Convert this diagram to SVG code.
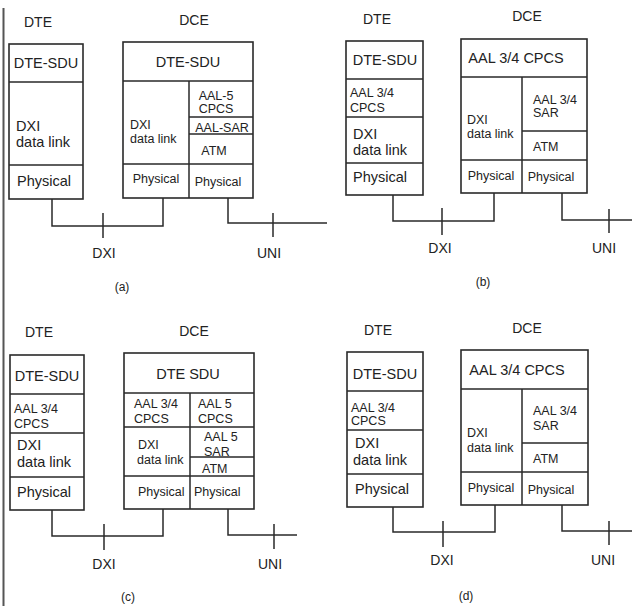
<svg xmlns="http://www.w3.org/2000/svg" width="632" height="606" viewBox="0 0 632 606">
<style>
text{font-family:"Liberation Sans",Arial,sans-serif;fill:#222}
.h{font-size:14px;text-anchor:middle}
.b{font-size:14.5px}
.s{font-size:12.5px}
.c{text-anchor:middle}
.lab{font-size:12px;text-anchor:middle}
.box{fill:none;stroke:#2a2a2a;stroke-width:1.6}
.ln{fill:none;stroke:#2a2a2a;stroke-width:1.5}
</style>
<rect width="632" height="606" fill="#fff"/>
<line x1="3.5" y1="8" x2="3.5" y2="606" stroke="#555" stroke-width="2"/>

<!-- Panel (a) -->
<g id="a-dte">
<text class="h" x="38" y="27">DTE</text>
<rect class="box" x="9" y="44" width="74" height="155"/>
<path class="ln" d="M9 82H83M9 165H83"/>
<text class="b c" x="46" y="68">DTE-SDU</text>
<text class="b" x="16" y="131">DXI</text>
<text class="b" x="16" y="147">data link</text>
<text class="b" x="17" y="186">Physical</text>
</g>
<g id="a-dce">
<text class="h" x="194" y="25">DCE</text>
<rect class="box" x="123" y="42" width="130" height="156"/>
<path class="ln" d="M123 81H253M189 81V198M189 117H253M189 134H253M123 164H253"/>
<text class="b c" x="188" y="67">DTE-SDU</text>
<text class="s" x="130" y="129">DXI</text>
<text class="s" x="130" y="143">data link</text>
<text class="s c" x="216" y="100">AAL-5</text>
<text class="s c" x="216" y="113">CPCS</text>
<text class="s c" x="222" y="132">AAL-SAR</text>
<text class="s c" x="214" y="155">ATM</text>
<text class="s c" x="156" y="183">Physical</text>
<text class="s c" x="218" y="186">Physical</text>
</g>
<text class="lab" x="122" y="291">(a)</text>

<!-- Panel (b) -->
<g id="b-dte">
<text class="h" x="377" y="24">DTE</text>
<rect class="box" x="346" y="41" width="77" height="154"/>
<path class="ln" d="M346 79H423M346 117H423M346 163H423"/>
<text class="b c" x="385" y="65">DTE-SDU</text>
<text class="s" x="350" y="97">AAL 3/4</text>
<text class="s" x="350" y="112">CPCS</text>
<text class="b" x="353" y="139">DXI</text>
<text class="b" x="353" y="155">data link</text>
<text class="b" x="353" y="182">Physical</text>
</g>
<g id="b-dce">
<text class="h" x="527" y="21">DCE</text>
<rect class="box" x="461" y="39" width="126" height="154"/>
<path class="ln" d="M461 77H587M522 77V193M522 131H587M461 160H587"/>
<text class="b c" x="516" y="63">AAL 3/4 CPCS</text>
<text class="s" x="467" y="124">DXI</text>
<text class="s" x="467" y="138">data link</text>
<text class="s" x="533" y="104">AAL 3/4</text>
<text class="s" x="533" y="117">SAR</text>
<text class="s" x="533" y="151">ATM</text>
<text class="s c" x="491" y="180">Physical</text>
<text class="s c" x="551" y="181">Physical</text>
</g>
<text class="lab" x="483" y="286">(b)</text>

<!-- Panel (c) -->
<g id="c-dte">
<text class="h" x="39" y="337">DTE</text>
<rect class="box" x="10" y="355" width="74" height="155"/>
<path class="ln" d="M10 394H84M10 433H84M10 477H84"/>
<text class="b c" x="47" y="381">DTE-SDU</text>
<text class="s" x="14" y="413">AAL 3/4</text>
<text class="s" x="14" y="428">CPCS</text>
<text class="b" x="17" y="450">DXI</text>
<text class="b" x="17" y="467">data link</text>
<text class="b" x="17" y="497">Physical</text>
</g>
<g id="c-dce">
<text class="h" x="194" y="336">DCE</text>
<rect class="box" x="124" y="353" width="130" height="156"/>
<path class="ln" d="M124 393H254M190 393V509M124 427H254M190 457H254M124 476H254"/>
<text class="b c" x="188" y="379">DTE SDU</text>
<text class="s" x="134" y="408">AAL 3/4</text>
<text class="s" x="134" y="423">CPCS</text>
<text class="s" x="198" y="408">AAL 5</text>
<text class="s" x="198" y="423">CPCS</text>
<text class="s" x="204" y="441">AAL 5</text>
<text class="s" x="204" y="456">SAR</text>
<text class="s" x="202" y="473">ATM</text>
<text class="s" x="138" y="449">DXI</text>
<text class="s" x="137" y="464">data link</text>
<text class="s" x="138" y="496">Physical</text>
<text class="s" x="194" y="496">Physical</text>
</g>
<text class="lab" x="128" y="601">(c)</text>

<!-- Panel (d) -->
<g id="d-dte">
<text class="h" x="378" y="335">DTE</text>
<rect class="box" x="347" y="352" width="76" height="155"/>
<path class="ln" d="M347 391H423M347 430H423M347 474H423"/>
<text class="b c" x="385" y="379">DTE-SDU</text>
<text class="s" x="351" y="412">AAL 3/4</text>
<text class="s" x="351" y="425">CPCS</text>
<text class="b" x="355" y="448">DXI</text>
<text class="b" x="353" y="465">data link</text>
<text class="b" x="355" y="494">Physical</text>
</g>
<g id="d-dce">
<text class="h" x="527" y="333">DCE</text>
<rect class="box" x="461" y="350" width="127" height="155"/>
<path class="ln" d="M461 389H588M522 389V505M522 443H588M461 472H588"/>
<text class="b c" x="517" y="375">AAL 3/4 CPCS</text>
<text class="s" x="533" y="415">AAL 3/4</text>
<text class="s" x="533" y="430">SAR</text>
<text class="s" x="467" y="437">DXI</text>
<text class="s" x="467" y="452">data link</text>
<text class="s" x="533" y="463">ATM</text>
<text class="s c" x="491" y="492">Physical</text>
<text class="s c" x="551" y="494">Physical</text>
</g>
<text class="lab" x="466" y="600">(d)</text>

<g id="connectors">
<path class="ln" d="M52 199V226H163V198M103 213V238M228 198V223H327M273 213V237"/>
<path class="ln" d="M393 195V221H494V193M442 208V235M562 193V220H632M609 209V233"/>
<path class="ln" d="M52 510V536H163V509M104 524V550M228 509V535H297M274 524V549"/>
<path class="ln" d="M393 507V532H495V505M443 521V547M562 505V531H632M609 521V545"/>
<text class="h" x="104" y="258">DXI</text>
<text class="h" x="269" y="258">UNI</text>
<text class="h" x="440" y="253">DXI</text>
<text class="h" x="604" y="253">UNI</text>
<text class="h" x="104" y="569">DXI</text>
<text class="h" x="270" y="569">UNI</text>
<text class="h" x="442" y="565">DXI</text>
<text class="h" x="603" y="565">UNI</text>
</g>
</svg>
